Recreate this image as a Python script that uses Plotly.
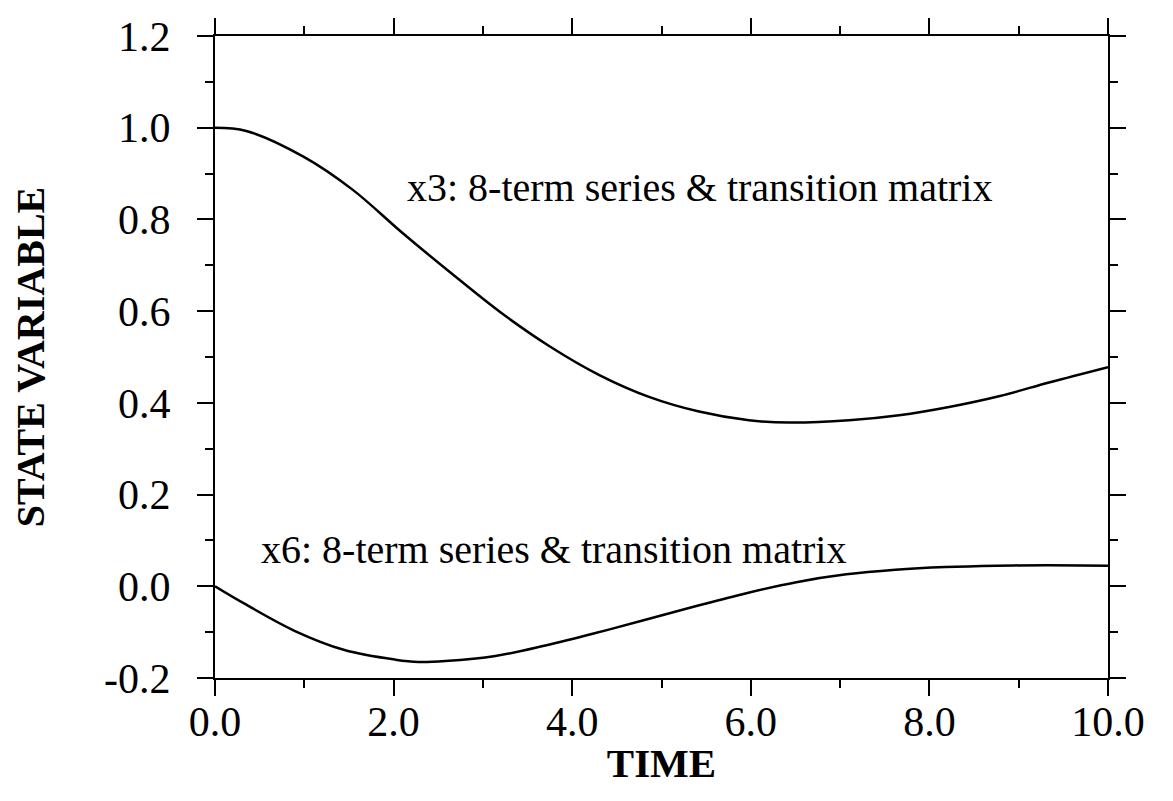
import plotly.graph_objects as go

# ---- data ----
t_x3 = [0.0, 0.35, 0.99, 1.54, 2.09, 2.65, 3.20, 3.75, 4.31, 4.86, 5.42, 5.98,
        6.43, 7.10, 7.66, 8.22, 8.79, 9.35, 10.0]
x3 = [1.0, 0.993, 0.937, 0.865, 0.772, 0.682, 0.597, 0.523, 0.460, 0.413, 0.381,
      0.362, 0.357, 0.362, 0.373, 0.391, 0.415, 0.445, 0.478]

t_x6 = [0.0, 0.33, 0.89, 1.45, 2.02, 2.28, 2.58, 3.14, 3.70, 4.26, 4.82, 5.39,
        5.95, 6.51, 7.07, 7.62, 8.18, 8.75, 9.31, 10.0]
x6 = [0.0, -0.038, -0.097, -0.139, -0.160, -0.165, -0.163, -0.152, -0.129, -0.102,
      -0.073, -0.043, -0.015, 0.009, 0.026, 0.036, 0.042, 0.045, 0.046, 0.045]

x_tick_vals = [0, 2, 4, 6, 8, 10]
x_tick_text = ["0.0", "2.0", "4.0", "6.0", "8.0", "10.0"]
y_tick_vals = [-0.2, 0.0, 0.2, 0.4, 0.6, 0.8, 1.0, 1.2]
y_tick_text = ["-0.2", "0.0", "0.2", "0.4", "0.6", "0.8", "1.0", "1.2"]

label_x3 = "x3: 8-term series & transition matrix"
label_x6 = "x6: 8-term series & transition matrix"

serif = "Liberation Serif, Times New Roman, serif"

fig = go.Figure()
fig.add_trace(go.Scatter(x=t_x3, y=x3, mode="lines", line=dict(color="black", width=2.5, shape="spline"),
                         showlegend=False, hoverinfo="skip"))
fig.add_trace(go.Scatter(x=t_x6, y=x6, mode="lines", line=dict(color="black", width=2.5, shape="spline"),
                         showlegend=False, hoverinfo="skip"))

fig.add_annotation(x=2.13, y=0.87, text=label_x3, showarrow=False, xanchor="left", yanchor="middle",
                   font=dict(family=serif, size=40, color="black"))
fig.add_annotation(x=0.49, y=0.08, text=label_x6, showarrow=False, xanchor="left", yanchor="middle",
                   font=dict(family=serif, size=40, color="black"))

axis_common = dict(
    showline=True, linecolor="black", linewidth=2, mirror="ticks",
    ticks="outside", ticklen=16, tickwidth=2, tickcolor="black",
    showgrid=False, zeroline=False, automargin=False, ticklabeloverflow="allow",
    tickfont=dict(family=serif, size=42, color="black"),
    minor=dict(ticks="outside", ticklen=8, tickwidth=2, tickcolor="black", showgrid=False),
)

fig.update_xaxes(range=[0, 10], tickvals=x_tick_vals, ticktext=x_tick_text,
                 minor_dtick=1, ticklabelstandoff=-10,
                 title=dict(text="<b>TIME</b>", font=dict(family=serif, size=41, color="black"), standoff=4),
                 **axis_common)
fig.update_yaxes(range=[-0.2, 1.2], tickvals=y_tick_vals, ticktext=y_tick_text,
                 minor_dtick=0.1, ticklabelstandoff=18,
                 title=dict(text="<b>STATE VARIABLE</b>", font=dict(family=serif, size=40, color="black"), standoff=47),
                 **axis_common)

fig.update_layout(
    width=1157, height=785,
    margin=dict(l=207, r=57, t=28, b=115, autoexpand=False),
    paper_bgcolor="white", plot_bgcolor="white",
)

fig.write_html("out.html")
